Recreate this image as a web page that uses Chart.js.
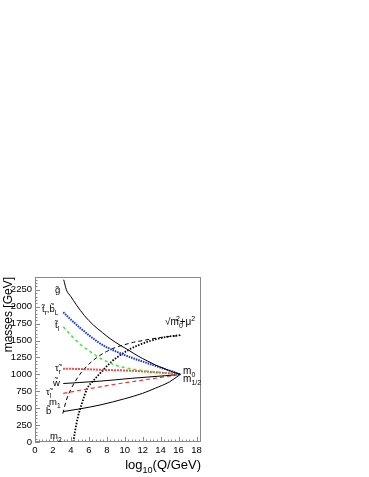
<!DOCTYPE html>
<html>
<head>
<meta charset="utf-8">
<script src="https://cdn.jsdelivr.net/npm/chart.js@4/dist/chart.umd.min.js"></script>
<style>body{margin:0;background:#fff}</style>
</head>
<body>
<canvas id="chart" width="369" height="477"></canvas>
<script>
// running masses vs log10(Q/GeV)
const gluinoX = [3.2, 3.5, 4, 4.6, 5.5, 6.5, 7.5, 8.35, 9.5, 10.4, 11.5, 12.5, 13.4, 14.5, 15.3, 16.2];
const gluinoY = [2400, 2250, 2150, 2030, 1870, 1730, 1620, 1530, 1430, 1360, 1270, 1200, 1140, 1080, 1040, 1000];

const stopRX = [3.15, 4, 5, 6, 7, 8, 9, 10, 11, 12, 13, 14, 15, 16.2];
const stopRY = [1920, 1810, 1690, 1580, 1480, 1400, 1340, 1285, 1235, 1190, 1145, 1100, 1055, 1000];

const stopLX = [3.15, 4, 5, 6, 7, 8, 9, 10, 11, 12, 13, 14, 15, 16.2];
const stopLY = [1705, 1580, 1450, 1350, 1260, 1190, 1135, 1100, 1075, 1055, 1040, 1027, 1015, 1000];

const stauRX = [3.15, 6, 8, 10.6, 13, 15, 16.2];
const stauRY = [1085, 1075, 1065, 1055, 1035, 1015, 1000];

const winoX = [3.15, 5, 7.24, 9, 10.6, 12.5, 14.5, 16.2];
const winoY = [865, 880, 900, 920, 940, 960, 980, 1000];

const stauLX = [3.15, 5, 7.24, 9.47, 12, 14, 16.2];
const stauLY = [720, 765, 815, 865, 915, 955, 1000];

const binoX = [3.15, 5, 7.24, 10, 12, 13.4, 15, 16.2];
const binoY = [450, 490, 547, 640, 720, 795, 890, 1000];

const m1X = [3.1, 3.5, 4, 5, 6, 7, 8, 9, 10, 11, 12, 13, 14, 15, 16.2];
const m1Y = [420, 620, 780, 1000, 1150, 1260, 1340, 1400, 1440, 1475, 1500, 1525, 1545, 1560, 1575];

const m2X = [4.27, 4.45, 4.8, 5.2, 5.85, 6.5, 7.6, 8.5, 9.5, 10.4, 11.5, 12.5, 13.5, 14.5, 15.5, 16.2];
const m2Y = [0, 150, 380, 560, 800, 905, 1065, 1185, 1285, 1360, 1430, 1480, 1520, 1550, 1570, 1580];

const xTicks = [0, 2, 4, 6, 8, 10, 12, 14, 16, 18];
const yTicks = [0, 250, 500, 750, 1000, 1250, 1500, 1750, 2000, 2250];

function pts(xs, ys) {
    return xs.map((v, i) => ({x: v, y: ys[i]}));
}

function line(xs, ys, color, width, dash) {
    return {
        data: pts(xs, ys),
        showLine: true,
        borderColor: color,
        borderWidth: width,
        borderDash: dash,
        pointRadius: 0,
        fill: false,
        cubicInterpolationMode: 'monotone'
    };
}

const FONT = '"Liberation Sans", Arial, sans-serif';

// label with optional sub/superscript pieces: [text, 'n'|'sub'|'sup']
function rich(ctx, x, y, parts, size) {
    let cx = x;
    for (const [t, kind] of parts) {
        const s = kind === 'n' ? size : size * 0.7;
        const dy = kind === 'sub' ? size * 0.3 : kind === 'sup' ? -size * 0.45 : 0;
        ctx.font = s + 'px ' + FONT;
        ctx.fillText(t, cx, y + dy);
        cx += ctx.measureText(t).width;
    }
    return cx - x;
}

const decor = {
    id: 'decor',
    afterDraw(chart) {
        const {ctx, chartArea: a, scales: {x, y}} = chart;
        ctx.save();
        ctx.strokeStyle = '#888';
        ctx.lineWidth = 1;
        ctx.strokeRect(a.left + 0.5, a.top + 0.5, a.right - a.left - 1, a.bottom - a.top - 1);

        ctx.beginPath();
        for (let i = 0; i <= 46; i++) {
            const px = Math.round(x.getPixelForValue(i * 0.4)) + 0.5;
            if (px > a.right) break;
            const len = i % 5 === 0 ? 5 : 2.5;
            ctx.moveTo(px, a.bottom);
            ctx.lineTo(px, a.bottom - len);
        }
        for (let i = 0; i <= 48; i++) {
            const py = Math.round(y.getPixelForValue(i * 50)) + 0.5;
            if (py < a.top) break;
            const len = i % 5 === 0 ? 5 : 2.5;
            ctx.moveTo(a.left, py);
            ctx.lineTo(a.left + len, py);
        }
        ctx.stroke();

        ctx.fillStyle = '#000';
        ctx.textBaseline = 'alphabetic';
        ctx.textAlign = 'left';
        const L = (vx, vy, parts, size) => rich(ctx, x.getPixelForValue(vx), y.getPixelForValue(vy), parts, size || 9.5);
        L(2.23, 2204, [['g\u0303', 'n']]);
        L(0.78, 1923, [['t\u0303', 'n'], ['r', 'sub'], [',b\u0303', 'n'], ['L', 'sub']]);
        L(2.23, 1686, [['t\u0303', 'n'], ['l', 'sub']]);
        L(2.23, 1050, [['\u03c4\u0303', 'n'], ['r', 'sub']]);
        L(2.0, 828, [['w\u0303', 'n']]);
        L(1.22, 695, [['\u03c4\u0303', 'n'], ['l', 'sub']]);
        L(1.56, 547, [['m', 'n'], ['1', 'sub']]);
        L(1.22, 414, [['b\u0303', 'n']]);
        L(1.67, 44, [['m', 'n'], ['2', 'sub']]);
        L(14.5, 1730, [['\u221am', 'n'], ['0', 'sub']], 10);
        L(15.7, 1730, [['2', 'sup'], ['+\u03bc', 'n'], ['2', 'sup']], 10);
        L(16.5, 1005, [['m', 'n'], ['0', 'sub']], 10);
        L(16.5, 887, [['m', 'n'], ['1/2', 'sub']], 10);

        // axis titles
        ctx.globalAlpha = 0;
        const tw = rich(ctx, 0, 0, [['log', 'n'], ['10', 'sub'], ['(Q/GeV)', 'n']], 13);
        ctx.globalAlpha = 1;
        rich(ctx, a.right - tw, 469, [['log', 'n'], ['10', 'sub'], ['(Q/GeV)', 'n']], 13);

        ctx.save();
        ctx.translate(12, a.top);
        ctx.rotate(-Math.PI / 2);
        ctx.font = '12px ' + FONT;
        ctx.textAlign = 'right';
        ctx.fillText('masses [GeV]', 0, 0);
        ctx.restore();
        ctx.restore();
    }
};

new Chart(document.getElementById('chart').getContext('2d'), {
    type: 'scatter',
    data: {
        datasets: [
            line(gluinoX, gluinoY, '#000', 1, []),
            line(stopRX, stopRY, '#1030ff', 2, [1.5, 1]),
            line(stopLX, stopLY, '#33ee33', 1.5, [3, 3]),
            line(stauRX, stauRY, '#ff1010', 2, [1.5, 1.5]),
            line(winoX, winoY, '#000', 1, []),
            line(stauLX, stauLY, '#ff3030', 1.2, [4, 3]),
            line(binoX, binoY, '#000', 1, []),
            line(m1X, m1Y, '#000', 1, [4, 3]),
            line(m2X, m2Y, '#000', 1.8, [1.5, 1.5])
        ]
    },
    options: {
        responsive: false,
        animation: false,
        devicePixelRatio: 1,
        layout: {padding: {left: 0, top: 277, right: 168, bottom: 0}},
        plugins: {legend: {display: false}, tooltip: {enabled: false}},
        scales: {
            x: {
                type: 'linear', min: 0, max: 18.5,
                afterFit(s) { s.height = 35; },
                afterBuildTicks(s) { s.ticks = xTicks.map(v => ({value: v})); },
                grid: {display: false, drawTicks: false, tickLength: 0},
                border: {display: false},
                ticks: {color: '#000', padding: 3, maxRotation: 0, callback: v => String(v), font: {size: 9.5, family: FONT}}
            },
            y: {
                type: 'linear', min: 0, max: 2440,
                afterFit(s) { s.width = 35; },
                afterBuildTicks(s) { s.ticks = yTicks.map(v => ({value: v})); },
                grid: {display: false, drawTicks: false, tickLength: 0},
                border: {display: false},
                ticks: {color: '#000', padding: 3, callback: v => String(v), font: {size: 9.5, family: FONT}}
            }
        }
    },
    plugins: [decor]
});
</script>
</body>
</html>
